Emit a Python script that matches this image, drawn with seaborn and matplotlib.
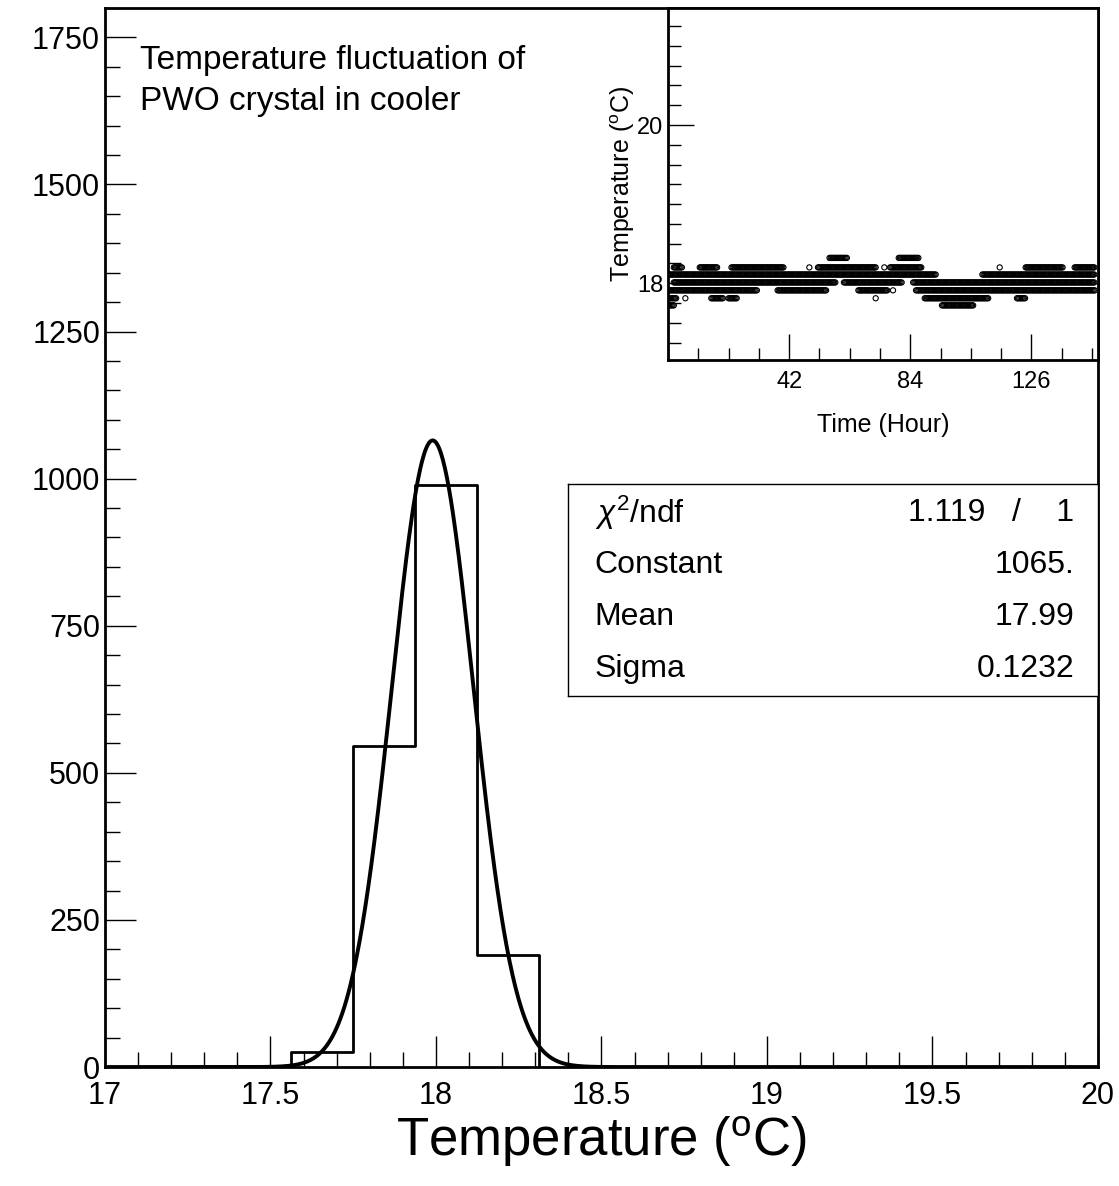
import numpy as np
import matplotlib
matplotlib.use("Agg")
import matplotlib.pyplot as plt
import seaborn as sns
from matplotlib.ticker import MultipleLocator, FormatStrFormatter

sns.set_style("white")
plt.rcParams['font.family'] = ['Liberation Sans', 'DejaVu Sans']
plt.rcParams['mathtext.fontset'] = 'custom'
plt.rcParams['mathtext.rm'] = 'Liberation Sans'
plt.rcParams['mathtext.it'] = 'Liberation Sans:italic'
for k in ['text.color', 'axes.labelcolor', 'xtick.color', 'ytick.color']:
    plt.rcParams[k] = 'black'

# Histogram
bin_edges = [17.5625, 17.75, 17.9375, 18.125, 18.3125]
counts = [25, 545, 990, 190]
# Gaussian fit
fit_const, fit_mean, fit_sigma = 1065.0, 17.99, 0.1232
# Inset: bands of readings (start hour, end hour, temperature)
band_start = [56, 80, 2, 11, 22, 49, 52, 75, 77, 115, 124, 141,
              0, 109, 2, 61, 85, 0, 38, 66, 78, 86,
              0, 6, 15, 21, 72, 89, 121, 0, 95]
band_end = [62, 87, 5, 17, 40, 49, 72, 75, 88, 115, 137, 148,
            93, 148, 58, 81, 148, 31, 55, 76, 78, 148,
            3, 6, 19, 24, 72, 111, 124, 2, 106]
band_temp = [18.32, 18.32, 18.2, 18.2, 18.2, 18.2, 18.2, 18.2, 18.2, 18.2, 18.2, 18.2,
             18.11, 18.11, 18.01, 18.01, 18.01, 17.91, 17.91, 17.91, 17.91, 17.91,
             17.81, 17.81, 17.81, 17.81, 17.81, 17.81, 17.81, 17.72, 17.72]

fig = plt.figure(figsize=(11.19, 11.86), dpi=100)
ax = fig.add_axes([0.0938, 0.1003, 0.8874, 0.893])
centers = [(bin_edges[i] + bin_edges[i+1]) / 2 for i in range(len(counts))]
sns.histplot(x=centers, weights=counts, bins=bin_edges, element="step", fill=False,
             color="black", linewidth=2, ax=ax)
ax.vlines([bin_edges[0], bin_edges[-1]], 0, [counts[0], counts[-1]], color="black", lw=2)
xs = np.linspace(17, 20, 1000)
ax.plot(xs, fit_const * np.exp(-0.5 * ((xs - fit_mean) / fit_sigma) ** 2), color="black", lw=2.8)
ax.set_xlim(17, 20)
ax.set_ylim(0, 1800)
ax.xaxis.set_major_locator(MultipleLocator(0.5))
ax.xaxis.set_minor_locator(MultipleLocator(0.1))
ax.xaxis.set_major_formatter(FormatStrFormatter('%g'))
ax.yaxis.set_major_locator(MultipleLocator(250))
ax.yaxis.set_minor_locator(MultipleLocator(50))
ax.tick_params(which='both', bottom=True, left=True, top=False, right=False, direction='in')
ax.tick_params(which='major', length=22, labelsize=22, width=1)
ax.tick_params(which='minor', length=11, width=1)
ax.tick_params(axis='x', pad=10)
ax.set_ylabel("")
ax.set_xlabel("Temperature ($\\mathregular{^oC}$)", fontsize=38, labelpad=2)
for s in ax.spines.values():
    s.set_linewidth(2); s.set_color("black")
ax.text(0.035, 0.965, "Temperature fluctuation of\nPWO crystal in cooler", transform=ax.transAxes,
        fontsize=24, va='top', ha='left', linespacing=1.4)

# Stats box
bx = fig.add_axes([0.5076, 0.413, 0.4736, 0.1788])
bx.set_xticks([]); bx.set_yticks([])
for s in bx.spines.values():
    s.set_linewidth(1); s.set_color("black")
rows = [("$\\chi^2$/ndf", "1.119   /    1"), ("Constant", "1065."), ("Mean", "17.99"), ("Sigma", "0.1232")]
for i, (a, b) in enumerate(rows):
    y = 0.865 - i * 0.245
    bx.text(0.05, y, a, fontsize=23, va='center', ha='left', transform=bx.transAxes)
    bx.text(0.955, y, b, fontsize=23, va='center', ha='right', transform=bx.transAxes)

# Inset
ix = fig.add_axes([0.597, 0.6965, 0.384, 0.2968])
for s0, s1, t in zip(band_start, band_end, band_temp):
    h = np.arange(s0, s1 + 0.01, 0.4)
    sns.scatterplot(x=h, y=np.full(len(h), t), ax=ix, s=14, facecolors='none',
                    edgecolor='black', linewidth=0.8, marker='o')
ix.set_xlim(0, 149)
ix.set_ylim(17.03, 21.48)
ix.set_xticks([42, 84, 126])
ix.xaxis.set_minor_locator(MultipleLocator(10.5))
ix.set_yticks([18, 20])
ix.yaxis.set_minor_locator(MultipleLocator(0.25))
ix.tick_params(which='both', bottom=True, left=True, top=False, right=False, direction='in')
ix.tick_params(which='major', length=19, labelsize=17, width=1)
ix.tick_params(which='minor', length=9, width=1)
ix.tick_params(axis='x', pad=8)
ix.set_xlabel("Time (Hour)", fontsize=18, labelpad=14)
ix.set_ylabel("Temperature ($\\mathregular{^oC}$)", fontsize=18, labelpad=0)
for s in ix.spines.values():
    s.set_linewidth(2); s.set_color("black")

fig.savefig("out.png", dpi=100)
